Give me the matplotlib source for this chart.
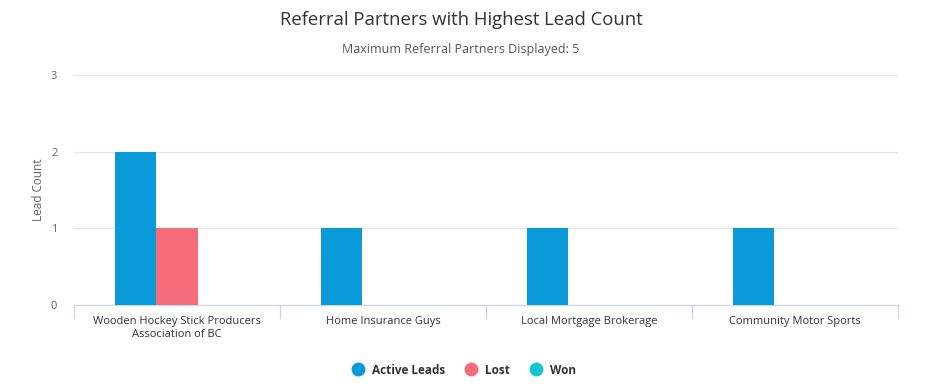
import numpy as np
import matplotlib.pyplot as plt
from matplotlib.lines import Line2D

plt.rcParams['font.family'] = ['Open Sans', 'DejaVu Sans']

categories = ['Wooden Hockey Stick Producers\nAssociation of BC', 'Home Insurance Guys',
              'Local Mortgage Brokerage', 'Community Motor Sports']
active_leads = [2, 1, 1, 1]
lost = [1, 0, 0, 0]
won = [0, 0, 0, 0]

series = ['Active Leads', 'Lost', 'Won']
colors = ['#0b9ad9', '#f56c7a', '#12c6d0']

W, H = 942, 388
fig = plt.figure(figsize=(W / 100, H / 100), dpi=100)
ax = fig.add_axes([74 / W, 1 - 305 / H, (898 - 74) / W, (305 - 75) / H])

x = np.arange(len(categories))
bw = 0.2
for i, (vals, c) in enumerate(zip([active_leads, lost, won], colors)):
    ax.bar(x + (i - 1) * bw, vals, width=bw, color=c, align='center', zorder=3)

ax.set_xlim(-0.5, len(categories) - 0.5)
ax.set_ylim(0, 3)
ax.set_yticks([0, 1, 2, 3])
ax.grid(axis='y', color='#e6e6e6', linewidth=1, zorder=0)
ax.tick_params(axis='y', length=0, labelsize=8, labelcolor='#666666', pad=12)

ax.set_xticks(x)
ax.set_xticklabels(categories, fontsize=8, color='#333333')
ax.tick_params(axis='x', length=0, pad=8)
ax.set_xticks(np.arange(len(categories) + 1) - 0.5, minor=True)
ax.tick_params(axis='x', which='minor', length=10, color='#ccd6eb', width=1)

for s in ['top', 'right', 'left']:
    ax.spines[s].set_visible(False)
ax.spines['bottom'].set_color('#ccd6eb')

ax.set_ylabel('Lead Count', fontsize=8.5, color='#666666', labelpad=4)

cx = 461 / W
fig.text(cx, 1 - 20 / H, 'Referral Partners with Highest Lead Count', ha='center', va='center',
         fontsize=13.3, color='#333333')
fig.text(cx, 1 - 50 / H, 'Maximum Referral Partners Displayed: 5', ha='center', va='center',
         fontsize=9, color='#555555')

handles = [Line2D([], [], marker='o', linestyle='', markersize=9, color=c) for c in colors]
leg = fig.legend(handles, series, loc='center', bbox_to_anchor=(cx, 1 - 370 / H), ncol=3,
                 frameon=False, handletextpad=0.2, columnspacing=1.2,
                 prop={'size': 8.5, 'weight': 'bold'})
for t in leg.get_texts():
    t.set_color('#333333')

fig.savefig('out.png', dpi=100)
